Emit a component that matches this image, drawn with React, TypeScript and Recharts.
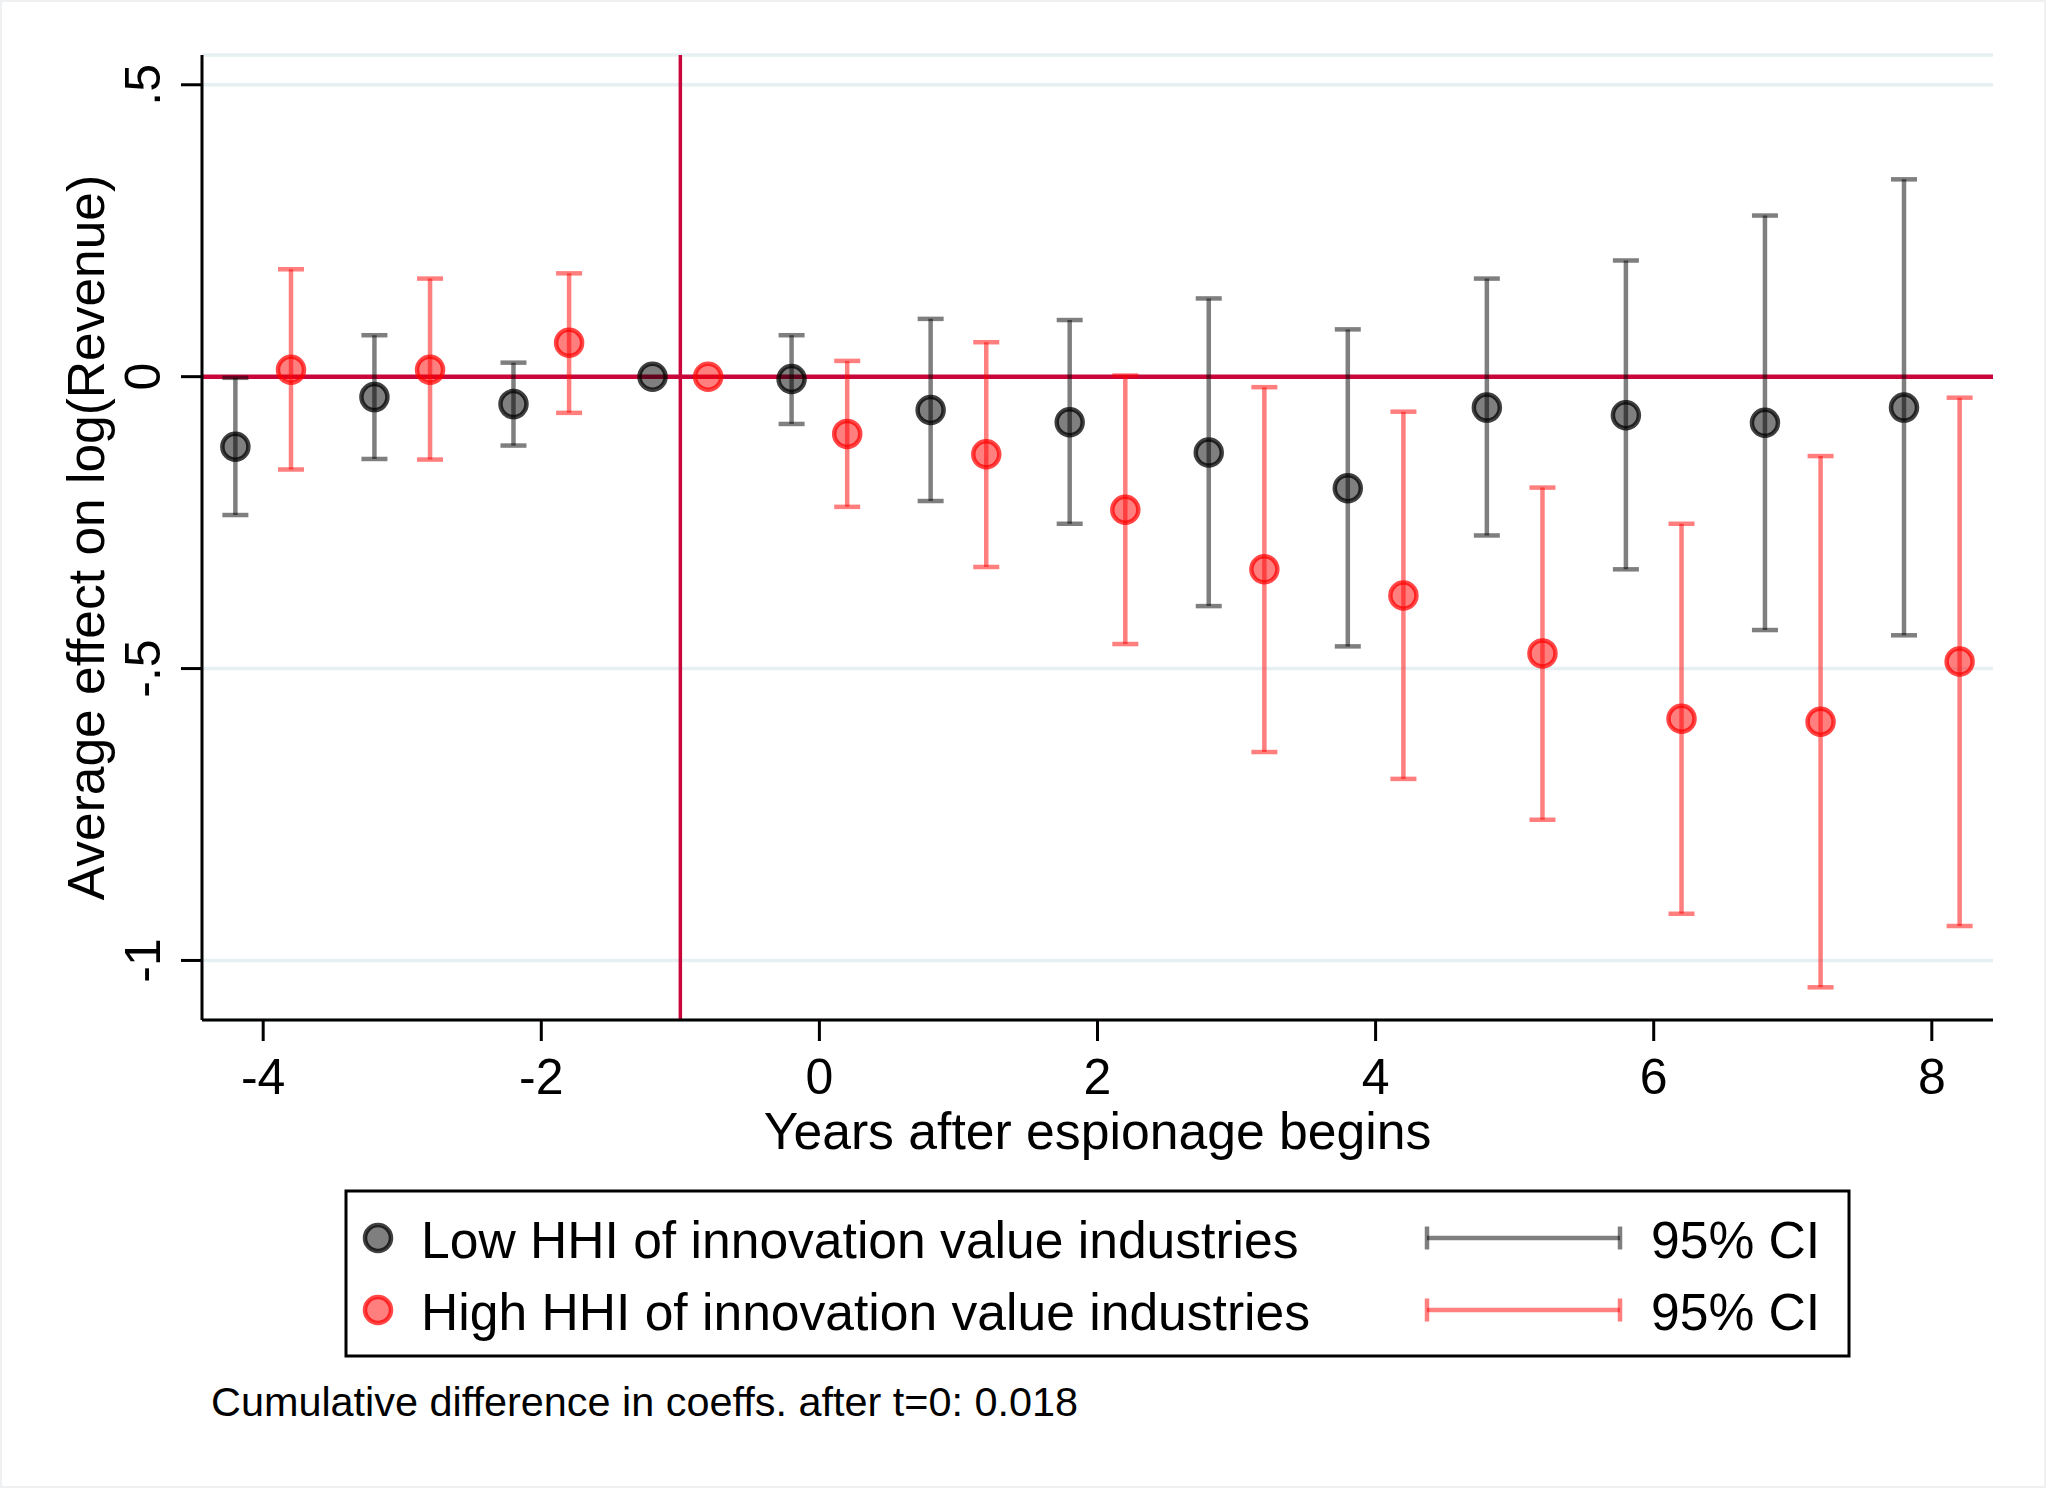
import React from "react";
import {
  CartesianGrid,
  ComposedChart,
  ErrorBar,
  ReferenceLine,
  Scatter,
  XAxis,
  YAxis,
} from "recharts";

// event-study coefficients, low HHI group (offset -0.2)
const lowX = [-4.2, -3.2, -2.2, -1.2, -0.2, 0.8, 1.8, 2.8, 3.8, 4.8, 5.8, 6.8, 7.8];
const lowCoef = [-0.12, -0.035, -0.047, 0, -0.004, -0.057, -0.078, -0.13, -0.191, -0.053, -0.066, -0.079, -0.053];
const lowCiLo = [-0.237, -0.141, -0.118, null, -0.081, -0.213, -0.252, -0.393, -0.462, -0.272, -0.33, -0.434, -0.443];
const lowCiHi = [-0.002, 0.071, 0.024, null, 0.071, 0.099, 0.097, 0.134, 0.081, 0.168, 0.199, 0.276, 0.338];

// high HHI group (offset +0.2)
const highX = [-3.8, -2.8, -1.8, -0.8, 0.2, 1.2, 2.2, 3.2, 4.2, 5.2, 6.2, 7.2, 8.2];
const highCoef = [0.012, 0.012, 0.058, 0, -0.098, -0.133, -0.228, -0.33, -0.375, -0.474, -0.586, -0.591, -0.488];
const highCiLo = [-0.159, -0.142, -0.062, null, -0.223, -0.326, -0.458, -0.643, -0.689, -0.759, -0.92, -1.046, -0.941];
const highCiHi = [0.184, 0.168, 0.177, null, 0.027, 0.059, 0.002, -0.018, -0.06, -0.19, -0.252, -0.136, -0.036];

const xTicks = [-4, -2, 0, 2, 4, 6, 8];
const yTicks = [-1, -0.5, 0, 0.5];

const FONT = '"Liberation Sans", Arial, Helvetica, sans-serif';
const CRIMSON = "#c8063a";

function buildRows(xs: number[], coef: number[], lo: (number | null)[], hi: (number | null)[]) {
  return xs.map((x, i) => ({
    x,
    y: coef[i],
    err: lo[i] == null || hi[i] == null ? undefined : [coef[i] - (lo[i] as number), (hi[i] as number) - coef[i]],
  }));
}

const lowRows = buildRows(lowX, lowCoef, lowCiLo, lowCiHi);
const highRows = buildRows(highX, highCoef, highCiLo, highCiHi);

function formatY(v: number): string {
  if (v === 0) return "0";
  if (v === 0.5) return ".5";
  if (v === -0.5) return "-.5";
  return String(v);
}

function GrayDot(props: any) {
  const { cx, cy } = props;
  if (cx == null || cy == null) return null;
  return <circle cx={cx} cy={cy} r={13} fill="#000" fillOpacity={0.5} stroke="#000" strokeOpacity={0.75} strokeWidth={4.5} />;
}

function RedDot(props: any) {
  const { cx, cy } = props;
  if (cx == null || cy == null) return null;
  return <circle cx={cx} cy={cy} r={13} fill="#ff0000" fillOpacity={0.5} stroke="#ff0000" strokeOpacity={0.72} strokeWidth={4.5} />;
}

function XTick(props: any) {
  const { x, y, payload } = props;
  return (
    <text x={x} y={y} dy={53} textAnchor="middle" fontSize={50} fontFamily={FONT} fill="#000">
      {payload.value}
    </text>
  );
}

function YTick(props: any) {
  const { y, payload } = props;
  const bx = 160;
  return (
    <text
      x={bx}
      y={y}
      textAnchor="middle"
      fontSize={50}
      fontFamily={FONT}
      fill="#000"
      transform={`rotate(-90, ${bx}, ${y})`}
    >
      {formatY(payload.value)}
    </text>
  );
}

function YTitle(props: any) {
  const vb = props.viewBox || { x: 0, y: 55, width: 202, height: 965 };
  const tx = vb.x + 104;
  const ty = vb.y + vb.height / 2;
  return (
    <text x={tx} y={ty} textAnchor="middle" fontSize={51.5} fontFamily={FONT} fill="#000" transform={`rotate(-90, ${tx}, ${ty})`}>
      Average effect on log(Revenue)
    </text>
  );
}

function XTitle(props: any) {
  const vb = props.viewBox || { x: 202, y: 1020, width: 1791, height: 60 };
  return (
    <text x={vb.x + vb.width / 2} y={vb.y + 129} textAnchor="middle" fontSize={51.7} fontFamily={FONT} fill="#000">
      Years after espionage begins
    </text>
  );
}

function LegendBox() {
  const rows = [
    { y: 1238, label: "Low HHI of innovation value industries", color: "#000", dot: <GrayDot cx={378} cy={1238} /> },
    { y: 1310, label: "High HHI of innovation value industries", color: "#ff0000", dot: <RedDot cx={378} cy={1310} /> },
  ];
  return (
    <svg width={2046} height={1488} style={{ position: "absolute", left: 0, top: 0, pointerEvents: "none" }}>
      <rect x={346} y={1191} width={1503} height={165} fill="#fff" stroke="#000" strokeWidth={3} />
      {rows.map((r) => (
        <g key={r.label}>
          {r.dot}
          <text x={421} y={r.y + 20} fontSize={51.6} fontFamily={FONT} fill="#000">
            {r.label}
          </text>
          <g stroke={r.color} strokeOpacity={0.5} strokeWidth={4.5}>
            <line x1={1427} y1={r.y} x2={1620} y2={r.y} />
            <line x1={1427} y1={r.y - 11.5} x2={1427} y2={r.y + 11.5} />
            <line x1={1620} y1={r.y - 11.5} x2={1620} y2={r.y + 11.5} />
          </g>
          <text x={1651} y={r.y + 20} fontSize={51.6} fontFamily={FONT} fill="#000">
            95% CI
          </text>
        </g>
      ))}
      <text x={211} y={1416} fontSize={41.4} fontFamily={FONT} fill="#000">
        Cumulative difference in coeffs. after t=0: 0.018
      </text>
    </svg>
  );
}

export default function App() {
  return (
    <div
      style={{
        position: "relative",
        width: 2046,
        height: 1488,
        background: "#fff",
        boxSizing: "border-box",
        border: "2px solid #eef0f1",
        overflow: "hidden",
      }}
    >
      <style>{"body{margin:0;background:#fff}"}</style>
      <div style={{ position: "absolute", left: -2, top: -2 }}>
        <ComposedChart width={2046} height={1488} margin={{ top: 55, right: 53, bottom: 408, left: 0 }}>
          <CartesianGrid vertical={false} stroke="#e6f0f2" strokeWidth={3.5} />
          <XAxis
            type="number"
            dataKey="x"
            domain={[-4.44, 8.44]}
            ticks={xTicks}
            allowDataOverflow
            height={60}
            tickSize={21}
            tickMargin={0}
            axisLine={{ stroke: "#000", strokeWidth: 3 }}
            tickLine={{ stroke: "#000", strokeWidth: 3 }}
            tick={<XTick />}
            label={<XTitle />}
          />
          <YAxis
            type="number"
            dataKey="y"
            domain={[-1.102, 0.551]}
            ticks={yTicks}
            allowDataOverflow
            width={202}
            tickSize={21}
            tickMargin={0}
            axisLine={{ stroke: "#000", strokeWidth: 3 }}
            tickLine={{ stroke: "#000", strokeWidth: 3 }}
            tick={<YTick />}
            label={<YTitle />}
          />
          <ReferenceLine y={0} stroke={CRIMSON} strokeWidth={4.5} />
          <ReferenceLine x={-1} stroke={CRIMSON} strokeWidth={3.5} />
          <Scatter data={lowRows} shape={<GrayDot />} isAnimationActive={false}>
            <ErrorBar dataKey="err" direction="y" width={13} stroke="#000" strokeOpacity={0.5} strokeWidth={4.5} />
          </Scatter>
          <Scatter data={highRows} shape={<RedDot />} isAnimationActive={false}>
            <ErrorBar dataKey="err" direction="y" width={13} stroke="#ff0000" strokeOpacity={0.5} strokeWidth={4.5} />
          </Scatter>
        </ComposedChart>
      </div>
      <div style={{ position: "absolute", left: -2, top: -2 }}>
        <LegendBox />
      </div>
    </div>
  );
}
